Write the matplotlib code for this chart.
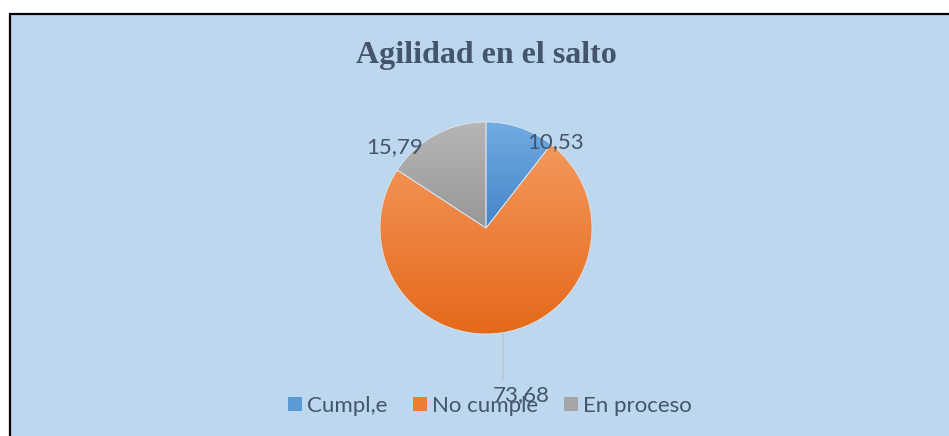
import matplotlib.pyplot as plt
import numpy as np
from matplotlib.patches import Rectangle, Patch
from matplotlib.colors import LinearSegmentedColormap

categories = ['Cumpl,e', 'No cumple', 'En proceso']
values = [10.53, 73.68, 15.79]
top_colors = ['#70ABE2', '#F4975C', '#B6B6B6']
bottom_colors = ['#4585C8', '#E5691A', '#979797']
base_colors = ['#5B9BD5', '#ED7D31', '#A5A5A5']

W, H = 949, 436
text_color = '#44546A'

fig = plt.figure(figsize=(W / 100, H / 100), dpi=100)
fig.patch.set_facecolor('white')
ax = fig.add_axes([0, 0, 1, 1])

# light blue chart area with black frame at top / left
ax.add_patch(Rectangle((10, -10), W + 10, H - 14 + 10, facecolor='#BDD7EE',
                       edgecolor='black', linewidth=1.6, zorder=0))

cx, cy, r = 486, H - 228, 106
wedges, _ = ax.pie(values, colors=base_colors, startangle=90, counterclock=False,
                   center=(cx, cy), radius=r,
                   wedgeprops=dict(edgecolor='#D9E6F2', linewidth=0.6))

# vertical gradient in each slice
for w, c1, c2 in zip(wedges, top_colors, bottom_colors):
    ext = w.get_path().get_extents()
    cmap = LinearSegmentedColormap.from_list('g', [c2, c1])
    img = ax.imshow(np.linspace(0, 1, 100).reshape(-1, 1), cmap=cmap, origin='lower',
                    extent=(ext.x0, ext.x1, ext.y0, ext.y1), aspect='auto', zorder=1)
    img.set_clip_path(w)
    w.set_facecolor('none')
    w.set_zorder(2)

# data labels (offsets from pie centre, in pixels)
label_offsets = [(70, 86), (35, -167), (-91, 81)]
for v, (dx, dy) in zip(values, label_offsets):
    ax.text(cx + dx, cy + dy, f'{v:.2f}'.replace('.', ','), ha='center', va='center',
            fontsize=16, color=text_color, family='Lato', zorder=4)
# leader line for the big slice
ax.plot([cx + 17, cx + 17], [cy - r + 1, cy - 152], color='#BFC5CC', lw=1.2, zorder=3)

ax.text(cx, H - 55, 'Agilidad en el salto', ha='center', va='center', fontsize=23,
        fontweight='bold', family='Liberation Serif', color=text_color)

handles = [Patch(facecolor=c, edgecolor='none') for c in base_colors]
ax.legend(handles, categories, ncol=3, frameon=False, loc='center',
          bbox_to_anchor=(490 / W, 1 - 406 / H), handlelength=0.62, handleheight=0.62,
          handletextpad=0.25, columnspacing=1.15, labelcolor=text_color,
          prop=dict(family='Lato', size=16))

ax.set_xlim(0, W)
ax.set_ylim(0, H)
ax.set_aspect('auto')
ax.axis('off')

fig.savefig('out.png', dpi=100, facecolor='white')
